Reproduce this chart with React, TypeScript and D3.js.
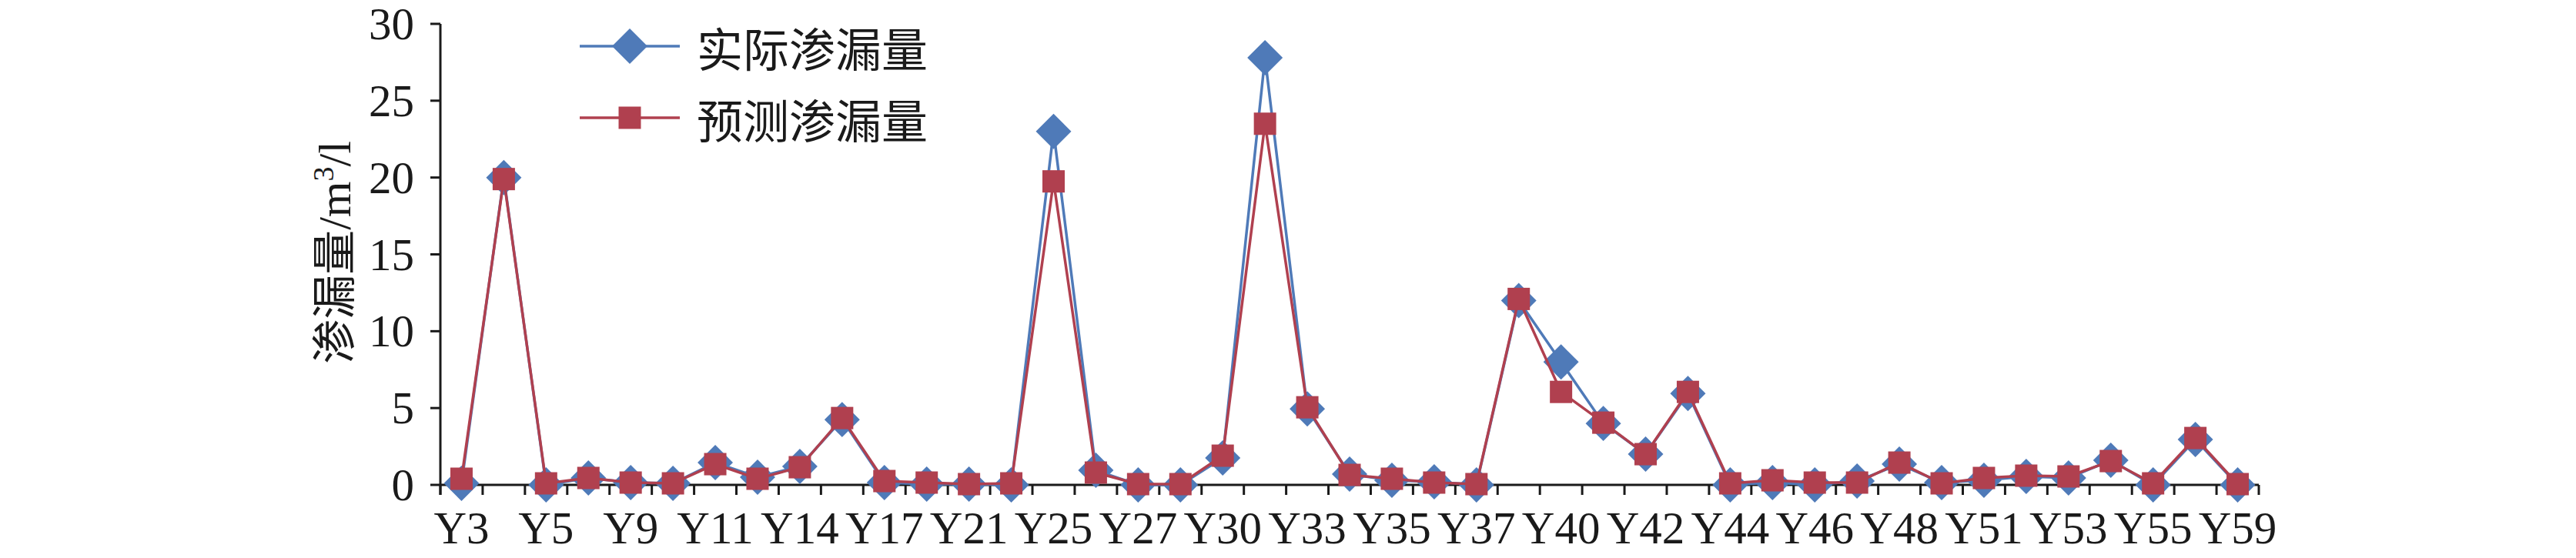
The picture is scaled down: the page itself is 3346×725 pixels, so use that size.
import React from 'react';
import * as d3 from 'd3';

const categories = [
  'Y3', 'Y4', 'Y5', 'Y7', 'Y9', 'Y10', 'Y11', 'Y12', 'Y14', 'Y15', 'Y17', 'Y19', 'Y21', 'Y23', 'Y25',
  'Y26', 'Y27', 'Y28', 'Y30', 'Y31', 'Y33', 'Y34', 'Y35', 'Y36', 'Y37', 'Y38', 'Y40', 'Y41', 'Y42',
  'Y43', 'Y44', 'Y45', 'Y46', 'Y47', 'Y48', 'Y49', 'Y51', 'Y52', 'Y53', 'Y54', 'Y55', 'Y57', 'Y59',
];

// 实际渗漏量
const actual = [
  0.1, 20.0, 0, 0.45, 0.15, 0.1, 1.45, 0.5, 1.2, 4.25, 0.15, 0.05, 0.05, 0, 23.0,
  0.95, 0, 0, 1.75, 27.8, 4.95, 0.7, 0.3, 0.2, 0, 12.0, 8.0, 4.0, 2.0,
  5.95, 0, 0.15, 0, 0.25, 1.35, 0.15, 0.3, 0.55, 0.45, 1.6, 0, 2.95, 0,
];

// 预测渗漏量
const predicted = [
  0.4, 19.9, 0.1, 0.45, 0.15, 0.1, 1.35, 0.4, 1.15, 4.35, 0.25, 0.15, 0.05, 0.1, 19.75,
  0.8, 0.05, 0.05, 1.9, 23.5, 5.05, 0.65, 0.4, 0.15, 0.05, 12.1, 6.05, 4.05, 2.0,
  6.05, 0.1, 0.3, 0.15, 0.15, 1.45, 0.1, 0.45, 0.6, 0.55, 1.55, 0.1, 3.05, 0.05,
];

const yTicks = [0, 5, 10, 15, 20, 25, 30];
const seriesNames = ['实际渗漏量', '预测渗漏量'];

const BLUE = '#4f7ab8';
const RED = '#b0404f';
const AXIS = '#1a1a1a';
const SERIF = '"Liberation Serif", "Times New Roman", serif';
const CJK = '"Noto Sans CJK SC", sans-serif';

const App: React.FC = () => {
  const width = 3346;
  const height = 725;
  const left = 572;
  const right = 2934;
  const bottom = 630;
  const top = 31;

  const x = d3.scaleBand<string>().domain(categories).range([left, right]).padding(0);
  const cx = (c: string) => (x(c) ?? 0) + x.bandwidth() / 2;
  const y = d3.scaleLinear().domain([0, 30]).range([bottom, top]);

  const line = d3.line<number>()
    .x((_, i) => cx(categories[i]))
    .y(d => y(d));

  const diamond = d3.symbol().type(d3.symbolSquare).size(32.5 * 32.5)();
  const square = d3.symbol().type(d3.symbolSquare).size(29 * 29)();

  const boundaries = [...categories.map(c => x(c) ?? 0), right];

  return (
    <svg width={width} height={height} style={{ position: 'absolute', left: 0, top: 0, background: '#fff' }}>
      {/* y axis */}
      <line x1={left} x2={left} y1={top} y2={bottom + 13} stroke={AXIS} strokeWidth={3} />
      {yTicks.map(t => (
        <g key={t}>
          <line x1={left - 13} x2={left} y1={y(t)} y2={y(t)} stroke={AXIS} strokeWidth={3} />
          <text x={538} y={y(t)} textAnchor="end" dominantBaseline="central"
            fontFamily={SERIF} fontSize={59} fill={AXIS}>{t}</text>
        </g>
      ))}

      {/* x axis */}
      <line x1={left} x2={right} y1={bottom} y2={bottom} stroke={AXIS} strokeWidth={3} />
      {boundaries.map((b, i) => (
        <line key={i} x1={b} x2={b} y1={bottom} y2={bottom + 13} stroke={AXIS} strokeWidth={3} />
      ))}
      {categories.map((c, i) => i % 2 === 0 && (
        <text key={c} x={cx(c)} y={706} textAnchor="middle" fontFamily={SERIF} fontSize={59} fill={AXIS}>{c}</text>
      ))}

      {/* y title */}
      <text transform="translate(455,328) rotate(-90)" textAnchor="middle" fill={AXIS} fontSize={58}>
        <tspan fontFamily={CJK}>渗漏量</tspan>
        <tspan fontFamily={SERIF} fontSize={60}>/m</tspan>
        <tspan fontFamily={SERIF} fontSize={38} dy={-22}>3</tspan>
        <tspan fontFamily={SERIF} fontSize={60} dy={22}>/l</tspan>
      </text>

      {/* actual series */}
      <path d={line(actual) ?? ''} fill="none" stroke={BLUE} strokeWidth={3.5} />
      {actual.map((v, i) => (
        <path key={i} d={diamond ?? ''} fill={BLUE}
          transform={`translate(${cx(categories[i])},${y(v)}) rotate(45)`} />
      ))}

      {/* predicted series */}
      <path d={line(predicted) ?? ''} fill="none" stroke={RED} strokeWidth={3.5} />
      {predicted.map((v, i) => (
        <path key={i} d={square ?? ''} fill={RED}
          transform={`translate(${cx(categories[i])},${y(v)})`} />
      ))}

      {/* legend */}
      {seriesNames.map((name, i) => {
        const ly = i === 0 ? 60 : 153;
        return (
          <g key={name}>
            <line x1={753} x2={883} y1={ly} y2={ly} stroke={i === 0 ? BLUE : RED} strokeWidth={3.5} />
            <path d={(i === 0 ? diamond : square) ?? ''} fill={i === 0 ? BLUE : RED}
              transform={`translate(818,${ly})${i === 0 ? ' rotate(45)' : ''}`} />
            <text x={905} y={ly} dominantBaseline="central" fontFamily={CJK} fontSize={60} fill={AXIS}>{name}</text>
          </g>
        );
      })}
    </svg>
  );
};

export default App;
